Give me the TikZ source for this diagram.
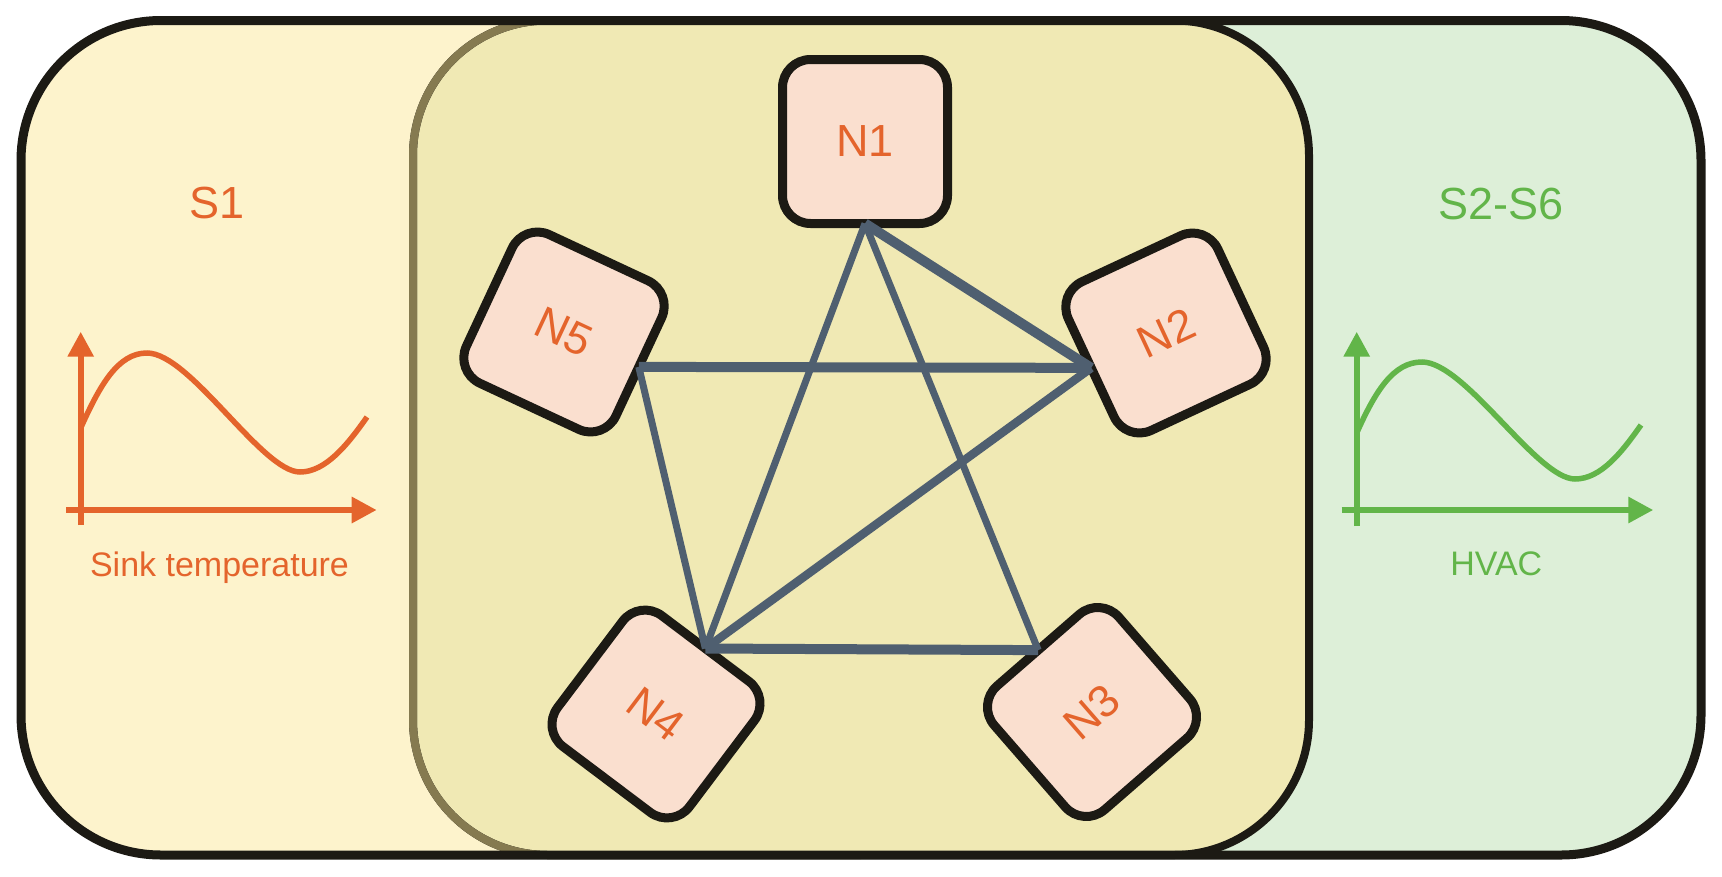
\documentclass[tikz,border=0pt]{standalone}
\usepackage{fontspec}
\setmainfont{Liberation Sans}
\usetikzlibrary{arrows.meta}
\definecolor{yellowbg}{HTML}{FDF3CC}
\definecolor{greenbg}{HTML}{DDEFD8}
\definecolor{midfill}{HTML}{F0E9B4}
\definecolor{olive}{HTML}{857A50}
\definecolor{blk}{HTML}{1C1A14}
\definecolor{nodefill}{HTML}{FADFCF}
\definecolor{orng}{HTML}{E4642C}
\definecolor{grn}{HTML}{62B549}
\definecolor{edgec}{HTML}{4F5F70}
\tikzset{
  nbox/.style={draw=blk, line width=9pt, fill=nodefill, rounded corners=28pt,
    minimum width=165pt, minimum height=164pt, inner sep=0pt, outer sep=0pt,
    text=orng, font=\fontsize{45}{45}\selectfont},
  edge/.style={draw=edgec, line cap=butt, line join=miter},
  thin edge/.style={edge, line width=7pt},
  mid edge/.style={edge, line width=8.5pt},
  thick edge/.style={edge, line width=10pt},
  axisline/.style={line width=6pt, -{Triangle[length=25pt,width=25pt]}},
  curveline/.style={line width=5.5pt, line cap=butt},
  title/.style={font=\fontsize{45}{45}\selectfont, inner sep=0pt},
  caption/.style={font=\fontsize{34}{34}\selectfont, inner sep=0pt, anchor=base}
}
\begin{document}
\begin{tikzpicture}[x=1pt,y=-1pt]
\useasboundingbox (0,0) rectangle (1722,876);
% background regions
\begin{scope}
  \clip[rounded corners=140pt] (21,20.5) rectangle (1701,855);
  \fill[yellowbg] (0,0) rectangle (861,876);
  \fill[greenbg] (861,0) rectangle (1722,876);
\end{scope}
% middle region
\path[fill=midfill, draw=blk, line width=8pt, rounded corners=135pt] (413,20.5) rectangle (1309,855);
\begin{scope}
  \clip (0,0) rectangle (861,876);
  \draw[olive, line width=8pt, rounded corners=135pt] (413,20.5) rectangle (1309,855);
\end{scope}
% outer border
\draw[blk, line width=9pt, rounded corners=140pt] (21,20.5) rectangle (1701,855);

% titles
\node[title, text=orng, anchor=base] (s1) at (217,218) {S1};
\node[title, text=grn, anchor=base] (s26) at (1501,219) {S2-S6};

% left chart
\coordinate (lyb) at (80.7,525);
\coordinate (lyt) at (80.7,331.7);
\coordinate (lxl) at (66,510);
\coordinate (lxr) at (376.7,510);
\draw[orng, axisline] (lyb) -- (lyt);
\draw[orng, axisline] (lxl) -- (lxr);
\coordinate (la) at (80.7,428);
\coordinate (lp) at (147,353);
\coordinate (lt) at (300,472);
\coordinate (le) at (367,417);
\draw[orng, curveline] (la) .. controls (100,385) and (118,353) .. (lp)
  .. controls (190,353) and (262,472) .. (lt)
  .. controls (326,472) and (348,444) .. (le);
\node[caption, text=orng] (cap1) at (219.5,576) {Sink temperature};

% right chart
\coordinate (ryb) at (1356.7,526);
\coordinate (ryt) at (1356.7,331.7);
\coordinate (rxl) at (1341.7,510);
\coordinate (rxr) at (1653.3,510);
\draw[grn, axisline] (ryb) -- (ryt);
\draw[grn, axisline] (rxl) -- (rxr);
\coordinate (ra) at (1356.7,433);
\coordinate (rp) at (1422,362);
\coordinate (rt) at (1575,479);
\coordinate (re) at (1641,425);
\draw[grn, curveline] (ra) .. controls (1375,392) and (1393,362) .. (rp)
  .. controls (1465,362) and (1537,479) .. (rt)
  .. controls (1601,479) and (1622,452) .. (re);
\node[caption, text=grn] (cap2) at (1496.3,575) {HVAC};

% nodes
\node[nbox] (N1) at (865,141.5) {N1};
\node[nbox, rotate=25] (N2) at (1166,333) {N2};
\node[nbox, rotate=41] (N3) at (1092,712) {N3};
\node[nbox, rotate=-37] (N4) at (656,714) {N4};
\node[nbox, rotate=-25] (N5) at (564,332) {N5};

% edges
\draw[thick edge] (N1.south) -- (N2.west);
\draw[thin edge] (N1.south) -- (N3.north);
\draw[thin edge] (N1.south) -- (N4.north);
\draw[thick edge] (N5.east) -- (N2.west);
\draw[thin edge] (N5.east) -- (N4.north);
\draw[mid edge] (N4.north) -- (N2.west);
\draw[thick edge] (N4.north) -- (N3.north);
\end{tikzpicture}
\end{document}
